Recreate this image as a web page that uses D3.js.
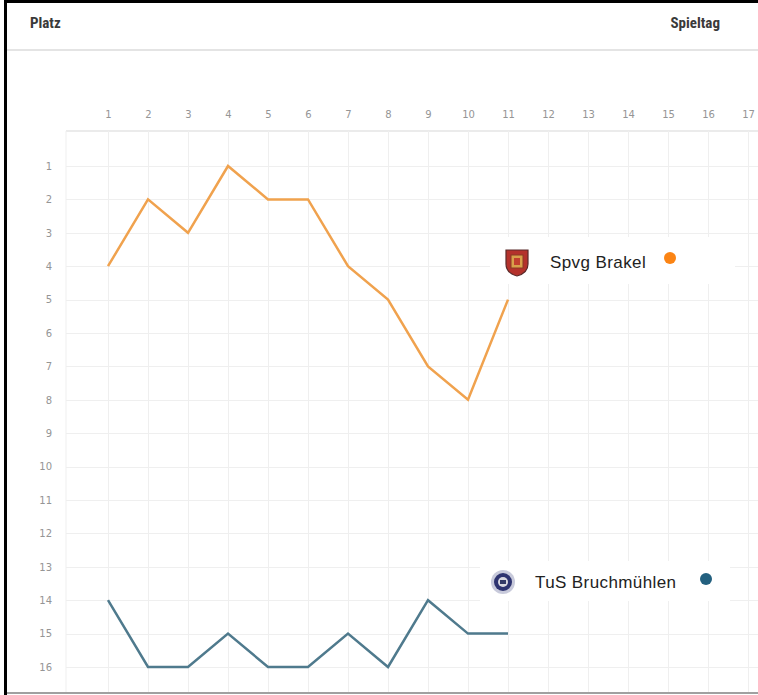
<!DOCTYPE html>
<html>
<head>
<meta charset="utf-8">
<script src="https://cdn.jsdelivr.net/npm/d3@7"></script>
<style>
  html, body { margin: 0; padding: 0; background: #fff; }
  #chart { width: 758px; height: 695px; }
  .hdr { font-family: "Liberation Sans Narrow", "Roboto Condensed", Arial, sans-serif; font-weight: bold; font-size: 15px; fill: #3a3a3a; }
  .tick-label { font-family: "DejaVu Sans", sans-serif; font-size: 10px; fill: #959595; }
  .team-label { font-family: "Liberation Sans", Arial, sans-serif; font-size: 17px; letter-spacing: 0.4px; fill: #222; }
</style>
</head>
<body>
<div id="chart"></div>
<script>
const matchdays = d3.range(1, 18);
const ranks = d3.range(1, 17);

const brakel = [4, 2, 3, 1, 2, 2, 4, 5, 7, 8, 5];
const bruchmuehlen = [14, 16, 16, 15, 16, 16, 15, 16, 14, 15, 15];

const teams = [
    { name: 'Spvg Brakel', values: brakel, line: '#f0a24e', dot: '#fb8414', icon: 'shield' },
    { name: 'TuS Bruchmühlen', values: bruchmuehlen, line: '#4f7a8d', dot: '#23607f', icon: 'seal' }
];

document.addEventListener('DOMContentLoaded', function() {
    drawChart();
});

function drawChart() {
    const width = 758, height = 695;

    const svg = d3.select('#chart')
        .append('svg')
        .attr('width', width)
        .attr('height', height);

    const x = d3.scaleLinear().domain([1, 17]).range([108, 748]);
    const y = d3.scaleLinear().domain([1, 16]).range([166, 667]);

    const plotLeft = 66, plotTop = 131, plotBottom = 693;

    // header
    svg.append('text').attr('class', 'hdr').attr('x', 30).attr('y', 28).text('Platz');
    svg.append('text').attr('class', 'hdr').attr('x', 720).attr('y', 28)
        .attr('text-anchor', 'end').text('Spieltag');
    svg.append('rect').attr('x', 7).attr('y', 49).attr('width', width).attr('height', 2).attr('fill', '#e4e4e4');

    // grid
    const grid = svg.append('g').attr('stroke', '#efefef').attr('stroke-width', 1);
    grid.append('line').attr('x1', plotLeft).attr('x2', width)
        .attr('y1', plotTop).attr('y2', plotTop).attr('stroke', '#ebebeb').attr('stroke-width', 2);
    grid.append('line').attr('x1', plotLeft).attr('x2', plotLeft)
        .attr('y1', plotTop).attr('y2', plotBottom);
    grid.selectAll('line.v').data(matchdays).enter().append('line')
        .attr('class', 'v')
        .attr('x1', d => x(d) + 0.5).attr('x2', d => x(d) + 0.5)
        .attr('y1', plotTop).attr('y2', plotBottom);
    grid.selectAll('line.h').data(ranks).enter().append('line')
        .attr('class', 'h')
        .attr('x1', plotLeft).attr('x2', width)
        .attr('y1', d => Math.round(y(d)) + 0.5).attr('y2', d => Math.round(y(d)) + 0.5);

    // axis labels
    const xAxis = d3.axisTop(x).tickValues(matchdays).tickSize(0).tickPadding(0);
    const gx = svg.append('g').attr('transform', 'translate(0,118)').call(xAxis);
    gx.select('.domain').remove();
    gx.selectAll('text').attr('class', 'tick-label').attr('fill', null);

    const yAxis = d3.axisLeft(y).tickValues(ranks).tickSize(0).tickPadding(0);
    const gy = svg.append('g').attr('transform', 'translate(52,0)').call(yAxis);
    gy.select('.domain').remove();
    gy.selectAll('text').attr('class', 'tick-label').attr('fill', null);

    // lines
    const line = d3.line()
        .x((d, i) => x(i + 1))
        .y(d => y(d));

    svg.selectAll('path.team').data(teams).enter().append('path')
        .attr('class', 'team')
        .attr('d', d => line(d.values))
        .attr('fill', 'none')
        .attr('stroke', d => d.line)
        .attr('stroke-width', 2.5)
        .attr('stroke-linejoin', 'miter');

    // labels
    const labelPos = [
        { box: [490, 237, 245, 47], icon: [517, 262], text: [550, 268], dot: [670, 258] },
        { box: [480, 561, 250, 40], icon: [503, 582], text: [535, 588], dot: [706, 579] }
    ];

    teams.forEach((t, i) => {
        const p = labelPos[i];
        const g = svg.append('g');
        g.append('rect').attr('x', p.box[0]).attr('y', p.box[1])
            .attr('width', p.box[2]).attr('height', p.box[3]).attr('fill', '#fff');
        if (t.icon === 'shield') {
            const [cx, cy] = p.icon;
            g.append('path')
                .attr('d', `M${cx - 11},${cy - 12} L${cx + 11},${cy - 12} L${cx + 11},${cy + 2} Q${cx + 11},${cy + 11} ${cx},${cy + 14} Q${cx - 11},${cy + 11} ${cx - 11},${cy + 2} Z`)
                .attr('fill', '#b4322c').attr('stroke', '#5a2a2a').attr('stroke-width', 1.2);
            g.append('rect').attr('x', cx - 6).attr('y', cy - 7).attr('width', 12).attr('height', 13)
                .attr('fill', '#d9a04a').attr('stroke', '#8a3a22').attr('stroke-width', 1);
            g.append('rect').attr('x', cx - 3).attr('y', cy - 4).attr('width', 6).attr('height', 7)
                .attr('fill', '#c2402e');
        } else {
            const [cx, cy] = p.icon;
            g.append('circle').attr('cx', cx).attr('cy', cy).attr('r', 12).attr('fill', '#c8cadb');
            g.append('circle').attr('cx', cx).attr('cy', cy).attr('r', 9).attr('fill', '#2e3470');
            g.append('circle').attr('cx', cx).attr('cy', cy).attr('r', 5).attr('fill', '#d8d8e0');
            g.append('rect').attr('x', cx - 3).attr('y', cy - 2).attr('width', 6).attr('height', 4).attr('fill', '#333a66');
        }
        g.append('text').attr('class', 'team-label')
            .attr('x', p.text[0]).attr('y', p.text[1]).text(t.name);
        g.append('circle').attr('cx', p.dot[0]).attr('cy', p.dot[1]).attr('r', 6).attr('fill', t.dot);
    });

    // frame
    svg.append('rect').attr('x', 4).attr('y', 0).attr('width', 3).attr('height', height).attr('fill', '#000');
    svg.append('rect').attr('x', 4).attr('y', 0).attr('width', width).attr('height', 3).attr('fill', '#000');
    svg.append('rect').attr('x', 7).attr('y', 692).attr('width', width).attr('height', 2).attr('fill', '#a0a0a0');
}
</script>
</body>
</html>
